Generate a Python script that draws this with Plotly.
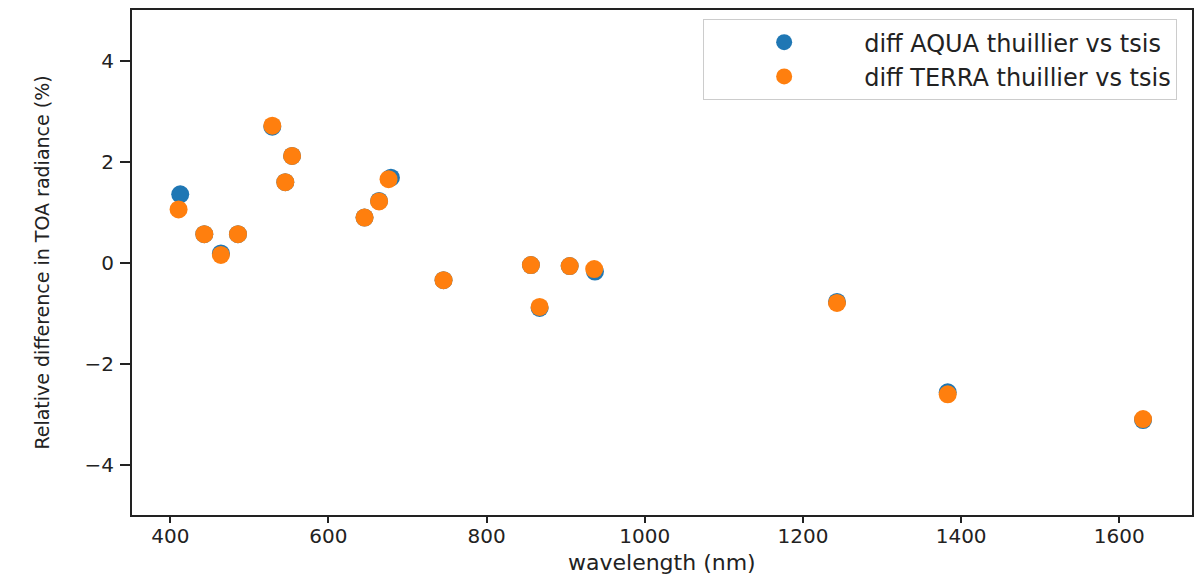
import plotly.graph_objects as go

# AQUA: wavelength (nm) and relative difference (%)
aqua_wl = [412.6, 443, 464, 485.6, 529, 545.4, 554, 645.6, 664, 679, 745.5, 856, 867, 905, 937, 1243, 1383, 1630]
aqua_diff = [1.35, 0.56, 0.18, 0.56, 2.69, 1.59, 2.11, 0.89, 1.22, 1.68, -0.35, -0.05, -0.90, -0.07, -0.18, -0.78, -2.57, -3.12]

# TERRA
terra_wl = [410.5, 443, 464, 485.6, 529, 545.4, 554, 645.6, 664, 676, 745.5, 856, 867, 905, 936, 1243, 1383, 1630]
terra_diff = [1.05, 0.56, 0.15, 0.56, 2.71, 1.59, 2.11, 0.89, 1.21, 1.65, -0.35, -0.05, -0.88, -0.07, -0.13, -0.80, -2.61, -3.10]

x_ticks = [400, 600, 800, 1000, 1200, 1400, 1600]
y_ticks = [-4, -2, 0, 2, 4]
x_title = "wavelength (nm)"
y_title = "Relative difference in TOA radiance (%)"

FONT = "DejaVu Sans"

fig = go.Figure()
fig.add_trace(go.Scatter(
    x=aqua_wl, y=aqua_diff, mode="markers", name="diff AQUA thuillier vs tsis",
    marker=dict(color="#1f77b4", size=18, line=dict(width=0)),
))
fig.add_trace(go.Scatter(
    x=terra_wl, y=terra_diff, mode="markers", name="diff TERRA thuillier vs tsis",
    marker=dict(color="#ff7f0e", size=18, line=dict(width=0)),
))

axis_common = dict(
    showgrid=False, zeroline=False, showline=True, linecolor="#222222", linewidth=2,
    mirror=True, ticks="outside", tickcolor="#222222", tickwidth=1.5,
    tickfont=dict(family=FONT, size=20, color="#222222"),
    automargin=False,
)

fig.update_xaxes(
    range=[351.6, 1691.9], tickvals=x_ticks, ticklen=6, ticklabelstandoff=-4,
    **axis_common,
)
fig.update_yaxes(
    range=[-5, 5], tickvals=y_ticks, ticklen=10, ticklabelstandoff=2,
    title=dict(text=y_title, font=dict(family=FONT, size=19, color="#222222"), standoff=30),
    **axis_common,
)

fig.add_annotation(
    text=x_title, xref="paper", yref="paper", x=0.5, y=0,
    xanchor="center", yanchor="bottom", yshift=-62, showarrow=False,
    font=dict(family=FONT, size=22, color="#222222"),
)

fig.update_layout(
    width=1202, height=575,
    margin=dict(l=132, r=10, t=10, b=60),
    paper_bgcolor="white", plot_bgcolor="white",
    showlegend=True,
    legend=dict(
        x=0.986, y=0.982, xanchor="right", yanchor="top",
        bgcolor="rgba(255,255,255,0.8)", bordercolor="#cccccc", borderwidth=1,
        font=dict(family=FONT, size=24, color="#222222"),
        itemsizing="trace", itemwidth=150, tracegroupgap=0,
    ),
)

fig.write_html("out.html")
